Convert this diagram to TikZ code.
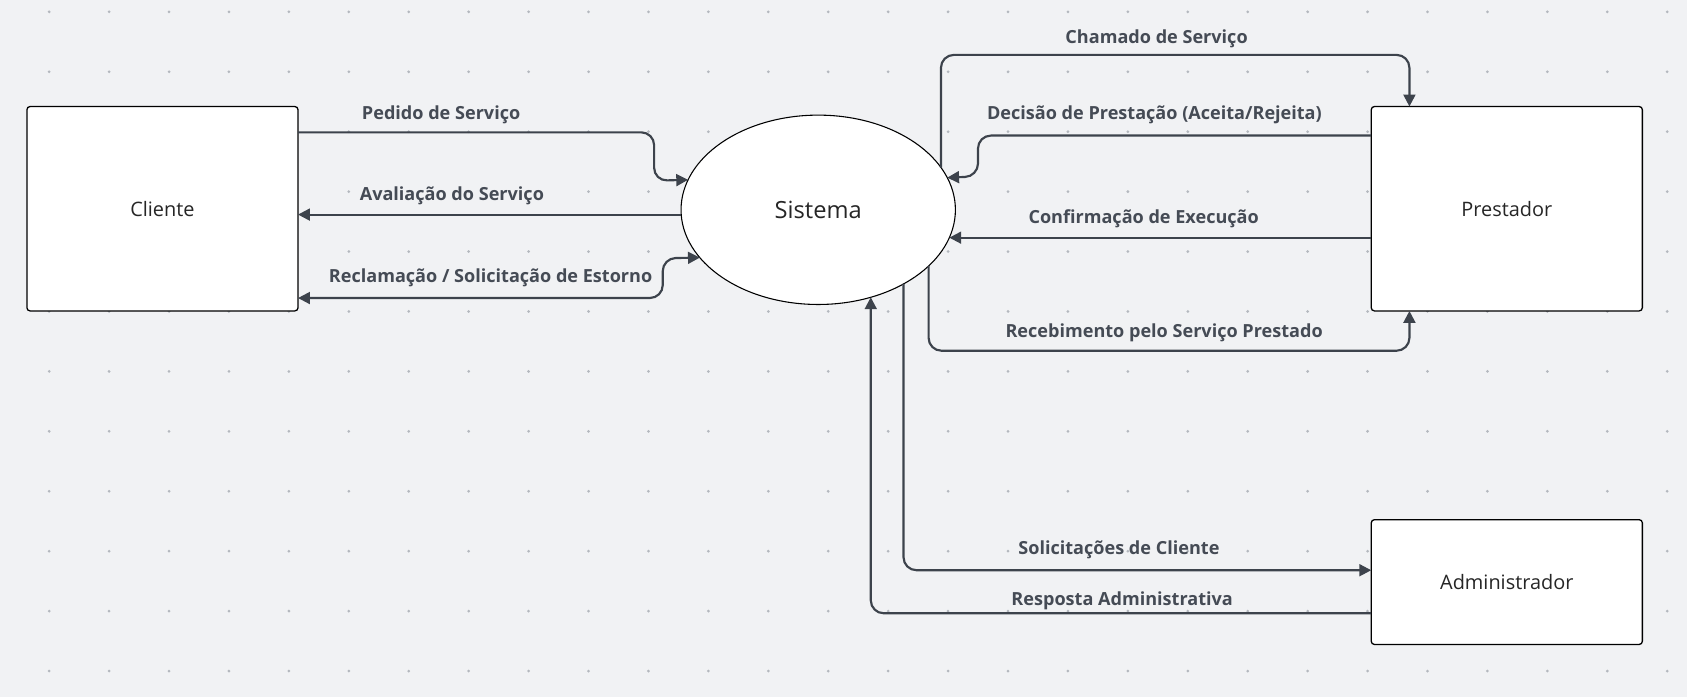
\documentclass[tikz,border=0pt]{standalone}
\usepackage{fontspec}
\setmainfont{Open Sans}
\usetikzlibrary{arrows.meta,shapes.geometric}
\definecolor{bg}{HTML}{F1F2F4}
\definecolor{dotc}{HTML}{B4B8BE}
\definecolor{linec}{HTML}{3D434C}
\definecolor{txtc}{HTML}{454B55}
\begin{document}
\begin{tikzpicture}[x=1pt,y=-1pt,
  box/.style={draw=black, line width=1.2pt, fill=white, rounded corners=3pt,
    minimum width=252pt, inner sep=0pt, outer sep=0pt,
    font=\fontsize{18.5}{22}\selectfont, text=black!85},
  flow/.style={draw=linec, line width=2pt, rounded corners=12pt,
    -{Triangle[length=11pt,width=11pt]}},
  bothflow/.style={flow, {Triangle[length=11pt,width=11pt]}-{Triangle[length=11pt,width=11pt]}},
  lbl/.style={text=txtc, font=\bfseries\fontsize{16.8}{20}\selectfont, inner sep=0pt}]
\useasboundingbox[fill=bg] (0,0) rectangle (1568,648);
\foreach \i in {0,...,27}{\foreach \j in {0,...,11}{
  \fill[dotc] (45.7+55.7*\i, 11+55.7*\j) circle (1.4pt);}}

\node[box, minimum height=190pt] (cli) at (151,194) {Cliente};
\node[box, minimum height=190pt] (pre) at (1400.5,194) {Prestador};
\node[box, minimum height=116pt] (adm) at (1400.5,541) {Administrador};
\node[draw=black, line width=1pt, fill=white, ellipse, minimum width=255pt,
  minimum height=176pt, inner sep=0pt, outer sep=0pt,
  font=\fontsize{22}{26}\selectfont, text=black!85] (sys) at (760.5,195) {Sistema};

% Cliente <-> Sistema
\draw[flow] (cli.east |- 0,123) -- (608,123) -- (608,168) -- (sys.167.4);
\draw[flow] (sys.182.7) -- (cli.east |- sys.182.7);
\draw[bothflow] (cli.east |- 0,277) -- (616,277) -- (616,240) -- (sys.202.25);

% Sistema <-> Prestador
\draw[flow] (sys.19.07) -- (sys.19.07 |- 0,51) -- (1310,51) -- (pre.north -| 1310,0);
\draw[flow] (pre.west |- 0,126) -- (909,126) -- (909,164) -- (sys.14.5);
\draw[flow] (pre.west |- sys.348.9) -- (sys.348.9);
\draw[flow] (sys.333.9) -- (sys.333.9 |- 0,326) -- (1310,326) -- (pre.south -| 1310,0);

% Sistema <-> Administrador
\draw[flow] (sys.319.4) -- (sys.319.4 |- 0,530) -- (adm.west |- 0,530);
\draw[flow] (adm.west |- 0,570) -- (sys.301.7 |- 0,570) -- (sys.301.7);

% labels
\node[lbl] (l1) at (1075,36) {Chamado de Serviço};
\node[lbl] (l2) at (410,107) {Pedido de Serviço};
\node[lbl] (l3) at (1073,107) {Decisão de Prestação (Aceita/Rejeita)};
\node[lbl] (l4) at (420,182) {Avaliação do Serviço};
\node[lbl] (l5) at (1063,203) {Confirmação de Execução};
\node[lbl] (l6) at (456,258) {Reclamação / Solicitação de Estorno};
\node[lbl] (l7) at (1082,309) {Recebimento pelo Serviço Prestado};
\node[lbl] (l8) at (1040,511) {Solicitações de Cliente};
\node[lbl] (l9) at (1043,558) {Resposta Administrativa};
\end{tikzpicture}
\end{document}
